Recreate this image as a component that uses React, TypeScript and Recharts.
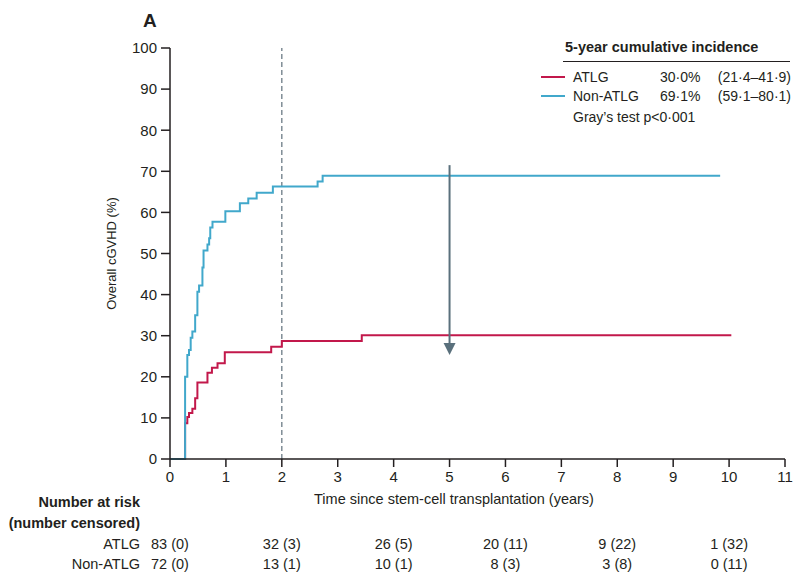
import React from 'react';
import { LineChart, Line, XAxis, YAxis, ReferenceLine, ReferenceDot } from 'recharts';

const FONT = "'Liberation Sans', Arial, sans-serif";
const INK = '#231f20';
const RED = '#c2184b';
const BLUE = '#41a8cb';
const GREY = '#5a707c';

// step points (years, %)
const atlgTimes = [0, 0.27, 0.31, 0.34, 0.4, 0.45, 0.49, 0.67, 0.75, 0.85, 0.98, 1.81, 2.0, 3.43, 10.04];
const atlgValues = [0, 8.7, 10.2, 11.2, 12.2, 14.8, 18.6, 21, 22.2, 23.3, 26, 27.3, 28.7, 30.1, 30.1];

const nonAtlgTimes = [0, 0.27, 0.31, 0.34, 0.37, 0.4, 0.45, 0.49, 0.52, 0.58, 0.6, 0.67, 0.7, 0.72, 0.76, 0.99, 1.25, 1.4, 1.55, 1.84, 2.64, 2.73, 9.84];
const nonAtlgValues = [0, 20, 25.3, 26.5, 29.5, 31, 35, 40.7, 42.2, 46.6, 50.7, 52.2, 53.7, 56.3, 57.7, 60.3, 62.2, 63.4, 64.8, 66.3, 67.5, 68.9, 68.9];

const xTicks = [0, 1, 2, 3, 4, 5, 6, 7, 8, 9, 10, 11];
const yTicks = [0, 10, 20, 30, 40, 50, 60, 70, 80, 90, 100];

const riskTimes = [0, 2, 4, 6, 8, 10];
const atlgAtRisk = ['83 (0)', '32 (3)', '26 (5)', '20 (11)', '9 (22)', '1 (32)'];
const nonAtlgAtRisk = ['72 (0)', '13 (1)', '10 (1)', '8 (3)', '3 (8)', '0 (11)'];

const landmarkYear = 2;
const arrowYear = 5;
const arrowFrom = 71.5;
const arrowTo = 25.3;

const atlgData = atlgTimes.map((t, i) => ({ t, v: atlgValues[i] }));
const nonAtlgData = nonAtlgTimes.map((t, i) => ({ t, v: nonAtlgValues[i] }));

const ArrowShape = (p: any) => {
  const { x1, y1, x2, y2 } = p;
  return (
    <g>
      <line x1={x1} y1={y1} x2={x2} y2={y2 - 10} stroke={GREY} strokeWidth={2} />
      <polygon points={`${x2 - 6},${y2 - 12} ${x2 + 6},${y2 - 12} ${x2},${y2}`} fill={GREY} />
    </g>
  );
};

const riskShape = (i: number) => (p: any) => (
  <g>
    <text x={p.cx} y={p.cy + 85} dy="0.35em" textAnchor="middle" fontSize={14.5} fontFamily={FONT} fill={INK}>
      {atlgAtRisk[i]}
    </text>
    <text x={p.cx} y={p.cy + 105} dy="0.35em" textAnchor="middle" fontSize={14.5} fontFamily={FONT} fill={INK}>
      {nonAtlgAtRisk[i]}
    </text>
  </g>
);

const txt = (extra: React.CSSProperties): React.CSSProperties => ({
  position: 'absolute',
  fontFamily: FONT,
  fontSize: 14,
  lineHeight: '18px',
  color: INK,
  whiteSpace: 'nowrap',
  ...extra,
});

const App = () => {
  return (
    <div style={{ position: 'absolute', left: 0, top: 0, width: 793, height: 574, background: '#fff' }}>
      <LineChart
        width={793}
        height={574}
        margin={{ top: 48, right: 8, left: 110, bottom: 85 }}
      >
        <XAxis
          type='number'
          dataKey='t'
          domain={[0, 11]}
          ticks={xTicks}
          allowDataOverflow
          height={30}
          tickSize={8}
          tickMargin={4}
          stroke={INK}
          strokeWidth={1.5}
          tick={{ fill: INK, fontSize: 15, fontFamily: FONT }}
          tickLine={{ stroke: INK, strokeWidth: 1.5 }}
        />
        <YAxis
          type='number'
          domain={[0, 100]}
          ticks={yTicks}
          width={60}
          tickSize={9}
          tickMargin={4}
          stroke={INK}
          strokeWidth={1.5}
          tick={{ fill: INK, fontSize: 15, fontFamily: FONT }}
          tickLine={{ stroke: INK, strokeWidth: 1.5 }}
          label={{
            value: 'Overall cGVHD (%)',
            angle: -90,
            position: 'insideLeft',
            offset: 1,
            style: { textAnchor: 'middle', fill: INK, fontSize: 13, fontFamily: FONT },
          }}
        />
        <ReferenceLine x={landmarkYear} stroke='#6b7b85' strokeWidth={1.3} strokeDasharray='5 3' />
        <Line
          data={atlgData}
          dataKey='v'
          type='stepAfter'
          stroke={RED}
          strokeWidth={2}
          dot={false}
          isAnimationActive={false}
        />
        <Line
          data={nonAtlgData}
          dataKey='v'
          type='stepAfter'
          stroke={BLUE}
          strokeWidth={2}
          dot={false}
          isAnimationActive={false}
        />
        <ReferenceLine
          segment={[{ x: arrowYear, y: arrowFrom }, { x: arrowYear, y: arrowTo }]}
          shape={ArrowShape}
        />
        {riskTimes.map((t, i) => (
          <ReferenceDot key={t} x={t} y={0} r={0} ifOverflow='visible' shape={riskShape(i)} />
        ))}
      </LineChart>

      <div style={txt({ left: 143, top: 10, fontSize: 19, fontWeight: 700, lineHeight: '22px' })}>A</div>

      <div style={txt({ left: 565, top: 38, fontWeight: 700, fontSize: 14.5 })}>5-year cumulative incidence</div>
      <div style={{ position: 'absolute', left: 563, top: 61, width: 227, height: 1.3, background: INK }} />
      <div style={{ position: 'absolute', left: 541, top: 76, width: 24, height: 1.5, background: RED }} />
      <div style={txt({ left: 573, top: 68 })}>ATLG</div>
      <div style={txt({ left: 660, top: 68 })}>30·0%</div>
      <div style={txt({ right: 2, top: 68 })}>(21·4–41·9)</div>
      <div style={{ position: 'absolute', left: 541, top: 95, width: 24, height: 1.5, background: BLUE }} />
      <div style={txt({ left: 573, top: 87 })}>Non-ATLG</div>
      <div style={txt({ left: 660, top: 87 })}>69·1%</div>
      <div style={txt({ right: 2, top: 87 })}>(59·1–80·1)</div>
      <div style={txt({ left: 573, top: 108 })}>Gray’s test p&lt;0·001</div>

      <div style={txt({ left: 454, top: 490, fontSize: 14.5, transform: 'translateX(-50%)' })}>
        Time since stem-cell transplantation (years)
      </div>

      <div style={txt({ right: 793 - 140, top: 493, fontWeight: 700, fontSize: 14.5 })}>Number at risk</div>
      <div style={txt({ right: 793 - 140, top: 514, fontWeight: 700, fontSize: 14.5 })}>(number censored)</div>
      <div style={txt({ right: 793 - 140, top: 535, fontSize: 14.5 })}>ATLG</div>
      <div style={txt({ right: 793 - 140, top: 555, fontSize: 14.5 })}>Non-ATLG</div>
    </div>
  );
};

export default App;
